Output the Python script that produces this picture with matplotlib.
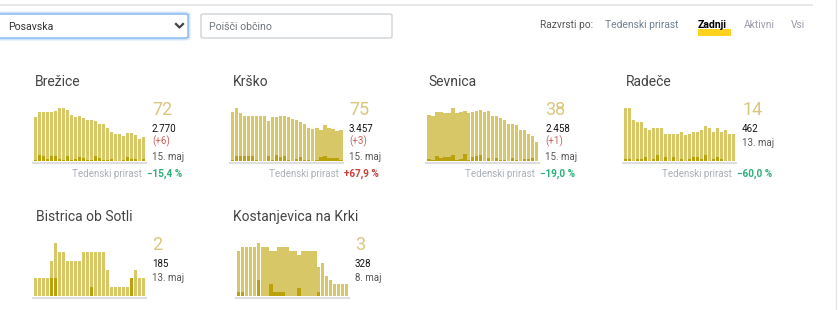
import matplotlib
matplotlib.use("Agg")
import matplotlib.pyplot as plt
from matplotlib.patches import FancyBboxPatch, Rectangle
from matplotlib.lines import Line2D

W, H = 838, 310

# --- data ---
names = ["Brežice", "Krško", "Sevnica", "Radeče", "Bistrica ob Sotli", "Kostanjevica na Krki"]
active_now = ["72", "75", "38", "14", "2", "3"]
totals = ["2.770", "3.457", "2.458", "462", "185", "328"]
new_last = ["(+6)", "(+3)", "(+1)", None, None, None]
dates = ["15. maj", "15. maj", "15. maj", "13. maj", "13. maj", "8. maj"]
weekly = ["−15,4 %", "+67,9 %", "−19,0 %", "−60,0 %", None, None]

active = [
    [132, 147, 147, 147, 147, 150, 159, 159, 153, 138, 132, 135, 129, 123,
     123, 120, 111, 111, 99, 87, 81, 81, 75, 84, 84, 78, 66, 72],
    [118, 128, 116, 109, 109, 109, 109, 109, 109, 97, 106, 106, 109, 109,
     106, 102, 99, 94, 89, 80, 77, 80, 75, 87, 80, 77, 73, 75],
    [92, 90, 98, 98, 96, 96, 106, 96, 98, 100, 96, 98, 100, 102,
     98, 100, 90, 90, 86, 82, 74, 74, 72, 62, 62, 54, 50, 38],
    [27, 27, 21, 20, 20, 17, 16, 17, 17, 17, 14, 14, 14, 14,
     15, 13, 14, 15, 15, 16, 18, 17, 15, 17, 15, 16, 14, 14],
    [2, 2, 2, 2, 4, 6, 5, 5, 4, 4, 4, 4, 5, 5,
     5, 5, 5, 5, 3, 1, 1, 1, 1, 1, 1, 3, 2, 2],
    [11, 12, 12, 12, 12, 13, 12, 12, 11, 11, 12, 12, 12, 11,
     11, 10, 11, 11, 11, 11, 7, 8, 5, 4, 3, 3, 3, 3],
]
new = [
    [3, 18, 15, 6, 15, 15, 6, 3, 15, 3, 6, 12, 9, 3,
     3, 15, 9, 3, 3, 6, 0, 0, 3, 12, 6, 6, 0, 6],
    [2, 12, 12, 12, 12, 12, 2, 0, 0, 12, 2, 15, 10, 12,
     2, 0, 5, 10, 2, 2, 0, 2, 10, 12, 7, 7, 7, 3],
    [4, 2, 10, 6, 8, 8, 12, 2, 4, 14, 2, 8, 10, 12,
     0, 6, 0, 6, 2, 2, 0, 6, 2, 0, 4, 4, 6, 1],
    [1, 1, 0, 1, 1, 2, 0, 1, 3, 0, 2, 0, 2, 0,
     1, 0, 1, 2, 2, 1, 3, 0, 1, 2, 1, 0, 0, 0],
    [0, 0, 0, 0, 2, 2, 0, 0, 0, 0, 0, 0, 0, 0,
     1, 0, 0, 0, 0, 0, 0, 0, 0, 0, 2, 0, 0, 0],
    [1, 1, 0, 0, 0, 4, 0, 0, 3, 1, 1, 1, 0, 0,
     0, 2, 0, 0, 0, 0, 1, 0, 0, 0, 0, 0, 0, 0],
]
# days drawn without gaps between bars
solid_days = [[], list(range(21, 28)), list(range(0, 10)), [], [], list(range(6, 20))]

sort_options = ["Tedenski prirast", "Zadnji", "Aktivni", "Vsi"]

# --- layout (pixels) ---
bar_left = [33.5, 230.5, 426.5, 623.5, 33.5, 236.5]
title_x = [35, 233, 428, 626, 36, 233]
baseline = [161, 161, 161, 161, 296, 296]

LIGHT = "#d8c766"
DARK = "#bba20c"
NUM = "#d9c77c"
GREEN = "#2bb07a"
RED = "#c8423a"

plt.rcParams["font.family"] = ["Roboto", "DejaVu Sans"]

fig = plt.figure(figsize=(W / 100, H / 100), dpi=100)


def fx(x):
    return x / W


def fy(y):
    return 1 - y / H


def text(x, y, s, **kw):
    fig.text(fx(x), fy(y), s, va="center", **kw)


# top rule and right edge
fig.add_artist(Line2D([0, fx(812)], [fy(5), fy(5)], color="#e3e3e3", lw=1.2))
fig.add_artist(Line2D([fx(836), fx(836)], [0, 1], color="#e6e6e6", lw=1.0))

# dropdown (focused)
fig.add_artist(FancyBboxPatch((fx(-2), fy(38)), fx(190), 24 / H,
                              boxstyle="round,pad=0,rounding_size=0.004",
                              fc="white", ec="#cfe3fb", lw=3.5))
fig.add_artist(FancyBboxPatch((fx(-2), fy(38)), fx(190), 24 / H,
                              boxstyle="round,pad=0,rounding_size=0.004",
                              fc="white", ec="#86b7f0", lw=1.0))
text(8, 26.5, "Posavska", fontsize=7.6, color="#333333")
fig.add_artist(Line2D([fx(176), fx(179.5), fx(183)], [fy(24), fy(27.5), fy(24)],
                      color="#444444", lw=1.6))

# search box
fig.add_artist(FancyBboxPatch((fx(201), fy(38)), fx(191), 24 / H,
                              boxstyle="round,pad=0,rounding_size=0.004",
                              fc="white", ec="#cfd3d8", lw=1.0))
text(209, 26.5, "Poišči občino", fontsize=7.6, color="#6f757b")

# sort controls
text(540, 25, "Razvrsti po:", fontsize=7.4, color="#555555")
sort_x = [605, 698, 744, 791]
for s, x in zip(sort_options, sort_x):
    if s == "Zadnji":
        fig.add_artist(Rectangle((fx(698), fy(35.5)), fx(33), 6 / H,
                                 color="#ffd21f", lw=0))
        text(x, 25, s, fontsize=7.6, color="black", fontweight="bold")
    elif s == "Tedenski prirast":
        text(x, 25, s, fontsize=7.4, color="#6f8191")
    else:
        text(x, 25, s, fontsize=7.4, color="#9a9cab")

# small multiples
for k, name in enumerate(names):
    x0 = bar_left[k]
    b = baseline[k]
    ax = fig.add_axes([fx(x0), fy(b), fx(112), 53 / H])
    days = list(range(len(active[k])))
    widths = [1.0 if d in solid_days[k] else 0.75 for d in days]
    ax.bar(days, active[k], width=widths, color=LIGHT, lw=0)
    ax.bar(days, new[k], width=widths, color=DARK, lw=0)
    ax.set_xlim(-0.5, len(days) - 0.5)
    ax.set_ylim(0, max(active[k]))
    ax.axis("off")
    fig.add_artist(Line2D([fx(x0 - 0.5), fx(x0 + 112.5)], [fy(b + 1.5), fy(b + 1.5)],
                          color="#dedede", lw=1.5))

    ty = b - 79
    text(title_x[k], ty, name, fontsize=10, color="#444444")

    nx = x0 + 118.5
    text(nx, b - 51, active_now[k], fontsize=13, color=NUM)
    text(nx, b - 32, totals[k], fontsize=7, color="#111111")
    if new_last[k]:
        text(nx, b - 19.3, new_last[k], fontsize=7, color="#c9605a")
        text(nx, b - 4.3, dates[k], fontsize=7, color="#555555")
    else:
        text(nx, b - 18, dates[k], fontsize=7, color="#555555")

    if weekly[k]:
        text(x0 + 108, b + 13, "Tedenski prirast", fontsize=7, color="#aab0b8",
             ha="right")
        col = GREEN if weekly[k].startswith("−") else RED
        text(x0 + 113, b + 13, weekly[k], fontsize=7.2, color=col, fontweight="bold")

fig.savefig("out.png", dpi=100)
